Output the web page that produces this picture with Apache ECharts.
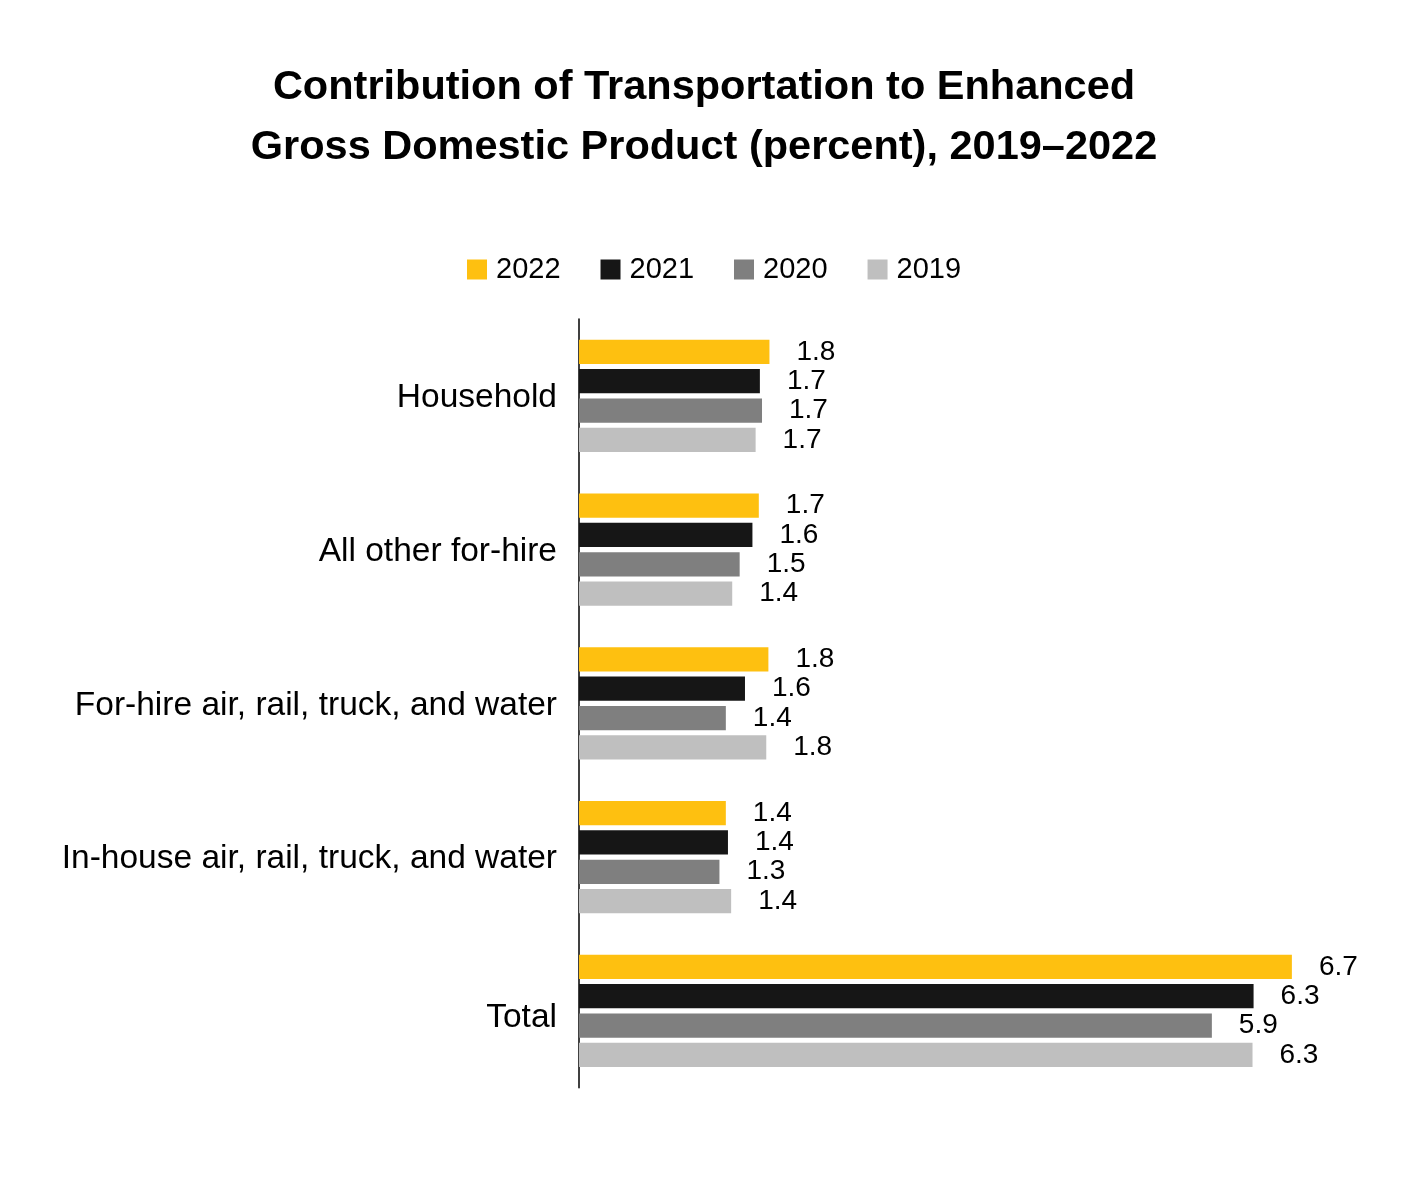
<!DOCTYPE html>
<html lang="en">
<head>
    <meta charset="UTF-8"/>
    <title>Contribution of Transportation to Enhanced GDP</title>
    <script src="https://cdn.jsdelivr.net/npm/echarts@6/dist/echarts.min.js"></script>
    <style>
        html, body { margin: 0; padding: 0; background: #fff; }
    </style>
</head>
<body>
<div id="main" style="width: 1419px;height: 1200px;"></div>
<script type="text/javascript">
    // categories, top to bottom
    var categories = ['Household', 'All other for-hire', 'For-hire air, rail, truck, and water',
        'In-house air, rail, truck, and water', 'Total'];
    var years = ['2022', '2021', '2020', '2019'];

    // values (percent)
    var values2022 = [1.79, 1.69, 1.78, 1.38, 6.70];
    var values2021 = [1.70, 1.63, 1.56, 1.40, 6.34];
    var values2020 = [1.72, 1.51, 1.38, 1.32, 5.948];
    var values2019 = [1.66, 1.44, 1.76, 1.43, 6.33];

    var colors = ['#FEC010', '#161616', '#7F7F7F', '#BFBFBF'];
    var font = 'Liberation Sans, Arial, sans-serif';

    var myChart = echarts.init(document.getElementById('main'));

    function makeSeries(name, data, color) {
        return {
            name: name,
            type: 'bar',
            data: data,
            barWidth: 24.3,
            barGap: '20.6%',
            itemStyle: { color: color },
            label: {
                show: true,
                position: 'right',
                distance: 27,
                color: '#000',
                fontSize: 28,
                fontFamily: font,
                formatter: function (p) { return p.value.toFixed(1); }
            }
        };
    }

    var catText = { fontSize: 33.5, fontFamily: font, color: '#000' };

    myChart.setOption({
        animation: false,
        title: {
            text: 'Contribution of Transportation to Enhanced\nGross Domestic Product (percent), 2019\u20132022',
            left: 704,
            top: 58,
            textAlign: 'center',
            padding: 0,
            textStyle: {
                fontFamily: font,
                fontWeight: 'bold',
                fontSize: 41.5,
                lineHeight: 60,
                color: '#000'
            }
        },
        legend: {
            data: years,
            top: 255,
            left: 467,
            padding: 0,
            itemWidth: 20,
            itemHeight: 20,
            itemGap: 40,
            icon: 'rect',
            textStyle: {
                fontFamily: font,
                fontSize: 29,
                color: '#000',
                padding: [0, 0, 0, 4]
            }
        },
        grid: {
            left: 579,
            right: 95.2,
            top: 319,
            bottom: 112.25,
            containLabel: false
        },
        xAxis: {
            type: 'value',
            min: 0,
            max: 7,
            show: false
        },
        yAxis: {
            type: 'category',
            data: categories,
            inverse: true,
            axisLine: { show: true, lineStyle: { color: '#000', width: 1.5 } },
            axisTick: { show: false },
            axisLabel: {
                margin: 22,
                color: '#000',
                fontSize: 33.5,
                fontFamily: font,
                // the Total label sits a little lower than its band centre
                formatter: function (v) {
                    return v === 'Total' ? '{t|' + v + '}' : '{a|' + v + '}';
                },
                rich: {
                    a: Object.assign({ padding: [4, 0, 0, 0] }, catText),
                    t: Object.assign({ padding: [14, 0, 0, 0] }, catText)
                }
            }
        },
        series: [
            makeSeries(years[0], values2022, colors[0]),
            makeSeries(years[1], values2021, colors[1]),
            makeSeries(years[2], values2020, colors[2]),
            makeSeries(years[3], values2019, colors[3])
        ]
    });
</script>
</body>
</html>
